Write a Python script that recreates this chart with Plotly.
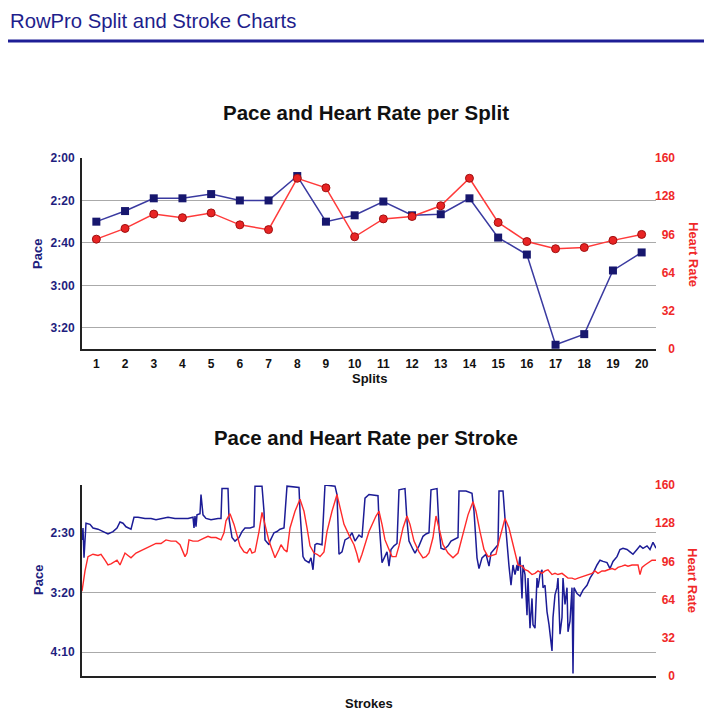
import plotly.graph_objects as go

W, H = 716, 722

# ---------------- data ----------------
splits = list(range(1, 21))
split_pace_sec = [150, 145, 139, 139, 137, 140, 140, 128.5, 150, 147,
                  140.5, 147, 146.5, 139, 157.5, 165.5, 208, 203, 173, 164.5]
split_hr = [92, 101, 113, 110, 114, 104, 100, 143, 135, 94,
            109, 111, 120, 143, 106, 90, 84, 85, 91, 96]

pace_ticks = [120, 140, 160, 180, 200]
pace_ticktext = ["2:00", "2:20", "2:40", "3:00", "3:20"]
hr_ticks = [0, 32, 64, 96, 128, 160]

stroke_pace_n = [0, 1, 2, 3, 4, 8, 11, 16, 21, 26, 31, 35, 38, 41, 44, 49, 52, 56, 63, 69,
                 74, 79, 86, 93, 99, 106, 111, 112, 113, 114, 115, 118, 119, 121, 124, 129, 136, 139, 140, 146,
                 147, 150, 153, 157, 160, 163, 168, 172, 173, 180, 182, 183, 187, 188, 192, 195, 198, 202, 205, 217,
                 218, 221, 223, 227, 229, 231, 233, 235, 240, 243, 253, 255, 257, 260, 263, 267, 270, 273, 277, 280,
                 283, 287, 296, 297, 300, 302, 305, 307, 309, 312, 315, 317, 323, 325, 327, 331, 333, 337, 341, 344,
                 347, 349, 355, 357, 359, 362, 366, 369, 372, 376, 377, 384, 390, 392, 395, 397, 400, 404, 407, 409,
                 412, 416, 417, 421, 423, 426, 427, 429, 431, 433, 435, 436, 438, 440, 441, 443, 445, 446, 448, 450,
                 451, 453, 455, 456, 458, 460, 461, 463, 465, 467, 470, 471, 473, 475, 476, 478, 480, 481, 483, 485,
                 486, 488, 490, 491, 492, 495, 498, 501, 505, 508, 511, 515, 518, 521, 525, 528, 531, 535, 538, 541,
                 545, 548, 551, 555, 558, 561, 565, 568, 571, 574]
stroke_pace_sec = [156, 146, 171, 152, 142, 143, 146, 147, 149, 151, 149, 146, 141, 142, 145, 147, 137, 137, 138, 138,
                   139, 138, 137, 138, 138, 138, 137, 146, 136, 145, 135, 134, 118, 135, 138, 139, 138, 138, 113, 113,
                   138, 154, 157, 154, 149, 146, 146, 145, 111, 111, 132, 156, 160, 157, 150, 149, 147, 146, 111, 112,
                   132, 170, 173, 175, 171, 181, 160, 159, 160, 110, 111, 118, 168, 166, 156, 154, 150, 157, 152, 154,
                   121, 118, 119, 140, 175, 171, 166, 178, 164, 161, 159, 114, 113, 140, 157, 164, 167, 161, 153, 151,
                   150, 114, 113, 146, 163, 164, 161, 157, 156, 154, 115, 115, 117, 132, 171, 180, 171, 168, 178, 167,
                   164, 160, 115, 115, 138, 174, 178, 194, 177, 185, 177, 182, 170, 205, 177, 185, 219, 188, 230, 205,
                   227, 230, 188, 196, 185, 181, 196, 194, 216, 227, 249, 221, 202, 196, 188, 235, 221, 188, 210, 196,
                   233, 224, 196, 268, 196, 201, 203, 198, 194, 188, 184, 177, 173, 174, 175, 180, 174, 170, 164, 163,
                   164, 166, 168, 164, 161, 163, 161, 164, 158, 163]

stroke_hr_n = [0, 3, 6, 11, 16, 19, 23, 26, 29, 33, 35, 38, 40, 43, 46, 49, 54, 59, 64, 69,
               74, 79, 84, 89, 94, 98, 100, 103, 105, 107, 111, 116, 121, 126, 129, 134, 139, 142, 144, 148,
               152, 155, 158, 162, 165, 168, 170, 173, 177, 180, 183, 187, 190, 193, 197, 199, 202, 205, 208, 213,
               218, 222, 225, 228, 232, 235, 238, 242, 245, 250, 255, 258, 262, 267, 272, 275, 277, 280, 283, 287,
               294, 297, 300, 303, 307, 310, 314, 317, 321, 325, 328, 332, 337, 341, 344, 347, 351, 354, 357, 361,
               366, 371, 376, 381, 386, 391, 394, 398, 402, 406, 409, 414, 417, 421, 423, 427, 431, 434, 436, 440,
               443, 446, 450, 453, 456, 460, 463, 466, 470, 473, 476, 480, 483, 486, 490, 493, 496, 500, 503, 506,
               510, 513, 516, 520, 523, 526, 530, 533, 536, 540, 543, 546, 550, 553, 556, 558, 560, 563, 566, 570,
               573, 574]
stroke_hr = [71, 88, 100, 102, 101, 102, 97, 93, 94, 96, 97, 93, 97, 103, 101, 99, 103, 105, 107, 109,
             111, 111, 114, 113, 113, 110, 106, 100, 103, 114, 113, 113, 115, 117, 116, 116, 114, 120, 130, 136,
             127, 117, 109, 104, 103, 107, 103, 104, 121, 137, 127, 113, 106, 99, 106, 110, 106, 104, 124, 138,
             148, 138, 124, 109, 103, 102, 100, 104, 121, 138, 152, 141, 127, 118, 110, 102, 95, 102, 111, 121,
             134, 138, 127, 114, 106, 100, 100, 109, 124, 134, 127, 113, 104, 99, 100, 103, 116, 134, 124, 110,
             103, 99, 103, 118, 135, 146, 138, 121, 106, 100, 101, 102, 113, 127, 132, 124, 110, 99, 93, 92,
             89, 88, 85, 86, 88, 86, 88, 89, 85, 86, 85, 86, 84, 82, 82, 81, 82, 83, 84, 85,
             86, 88, 86, 88, 88, 89, 90, 89, 91, 92, 93, 92, 93, 93, 93, 85, 91, 93, 95, 97,
             97, 97]

stroke_pace_ticks = [150, 200, 250]
stroke_pace_ticktext = ["2:30", "3:20", "4:10"]

# ---------------- styling helpers ----------------
FONT = "Liberation Sans, Arial, Helvetica, sans-serif"
NAVY = "#1e1e7e"
RED = "#f02828"
FIGSP = "\u2007"  # figure space (digit width) to right-align the HR labels


def px(x):
    return x / W


def py(y):
    return 1 - y / H


hr_ticktext = [FIGSP * (3 - len(str(v))) + str(v) for v in hr_ticks]

fig = go.Figure()

fig.add_trace(go.Scatter(
    x=splits, y=split_pace_sec, xaxis="x", yaxis="y", mode="lines+markers",
    line=dict(color="#3a3aa0", width=1.5),
    marker=dict(symbol="square", size=8, color="#17176e"),
    name="Pace", showlegend=False))
fig.add_trace(go.Scatter(
    x=splits, y=split_hr, xaxis="x", yaxis="y2", mode="lines+markers",
    line=dict(color="#ff3a3a", width=1.5),
    marker=dict(symbol="circle", size=8, color="#e82424",
                line=dict(color="#a01010", width=1)),
    name="Heart Rate", showlegend=False))
fig.add_trace(go.Scatter(
    x=stroke_pace_n, y=stroke_pace_sec, xaxis="x2", yaxis="y3", mode="lines",
    line=dict(color="#1c1c96", width=1.5),
    name="Pace", showlegend=False))
fig.add_trace(go.Scatter(
    x=stroke_hr_n, y=stroke_hr, xaxis="x2", yaxis="y4", mode="lines",
    line=dict(color="#ff2a2a", width=1.4),
    name="Heart Rate", showlegend=False))

xdom = [px(82), px(656)]
top_dom = [py(349), py(158)]
bot_dom = [py(676), py(485)]

tick_pace_font = dict(family=FONT, size=12, color=NAVY, weight="bold")
tick_hr_font = dict(family=FONT, size=12, color=RED, weight="bold")

common_y = dict(showgrid=True, gridcolor="#aaaaaa", gridwidth=1, zeroline=False,
                showline=True, linecolor="#222222", linewidth=2, ticks="",
                ticklabelstandoff=3, tickfont=tick_pace_font, fixedrange=True)

common_hr = dict(side="right", anchor="free", position=px(652),
                 range=[0, 160], tickvals=hr_ticks, ticktext=hr_ticktext,
                 showgrid=False, zeroline=False, showline=False, ticks="",
                 ticklabelstandoff=2, tickfont=tick_hr_font)

fig.update_layout(
    width=W, height=H, margin=dict(l=0, r=0, t=0, b=0),
    template="none", paper_bgcolor="white", plot_bgcolor="white",
    showlegend=False,
    xaxis=dict(domain=xdom, anchor="y", range=[0.5, 20.5], tickvals=splits,
               ticktext=[str(s) for s in splits], showgrid=False, zeroline=False,
               showline=True, linecolor="#222222", linewidth=2, ticks="",
               ticklabelstandoff=3,
               tickfont=dict(family=FONT, size=12, color="#111111", weight="bold")),
    yaxis=dict(domain=top_dom, anchor="x", range=[210, 120], tickvals=pace_ticks,
               ticktext=pace_ticktext, **common_y),
    yaxis2=dict(overlaying="y", **common_hr),
    xaxis2=dict(domain=xdom, anchor="y3", range=[0, 574], showticklabels=False,
                showgrid=False, zeroline=False, showline=True, linecolor="#222222",
                linewidth=2, ticks=""),
    yaxis3=dict(domain=bot_dom, anchor="x2", range=[270, 110], tickvals=stroke_pace_ticks,
                ticktext=stroke_pace_ticktext, **common_y),
    yaxis4=dict(overlaying="y3", **common_hr),
)

ann = []
ann.append(dict(text="RowPro Split and Stroke Charts", x=px(8), y=py(21), xref="paper", yref="paper",
                xanchor="left", yanchor="middle", showarrow=False,
                font=dict(family=FONT, size=20.3, color="#1e1e8c")))
ann.append(dict(text="Pace and Heart Rate per Split", x=px(366), y=py(113), xref="paper", yref="paper",
                xanchor="center", yanchor="middle", showarrow=False,
                font=dict(family=FONT, size=20.5, color="#111111", weight="bold")))
ann.append(dict(text="Pace and Heart Rate per Stroke", x=px(366), y=py(438), xref="paper", yref="paper",
                xanchor="center", yanchor="middle", showarrow=False,
                font=dict(family=FONT, size=20.4, color="#111111", weight="bold")))
for yc in (254, 580):
    ann.append(dict(text="Pace", x=px(38), y=py(yc), xref="paper", yref="paper", textangle=-90,
                    xanchor="center", yanchor="middle", showarrow=False,
                    font=dict(family=FONT, size=13, color=NAVY, weight="bold")))
    ann.append(dict(text="Heart Rate", x=px(693), y=py(yc), xref="paper", yref="paper", textangle=90,
                    xanchor="center", yanchor="middle", showarrow=False,
                    font=dict(family=FONT, size=13, color=RED, weight="bold")))
ann.append(dict(text="Splits", x=px(369), y=py(378.5), xref="paper", yref="paper",
                xanchor="center", yanchor="middle", showarrow=False,
                font=dict(family=FONT, size=13, color="#111111", weight="bold")))
ann.append(dict(text="Strokes", x=px(369), y=py(703), xref="paper", yref="paper",
                xanchor="center", yanchor="middle", showarrow=False,
                font=dict(family=FONT, size=13, color="#111111", weight="bold")))
fig.update_layout(annotations=ann)

fig.add_shape(type="line", xref="paper", yref="paper", x0=px(8), x1=px(704), y0=py(41), y1=py(41),
              line=dict(color="#1e1e96", width=3))

fig.write_html("out.html")
